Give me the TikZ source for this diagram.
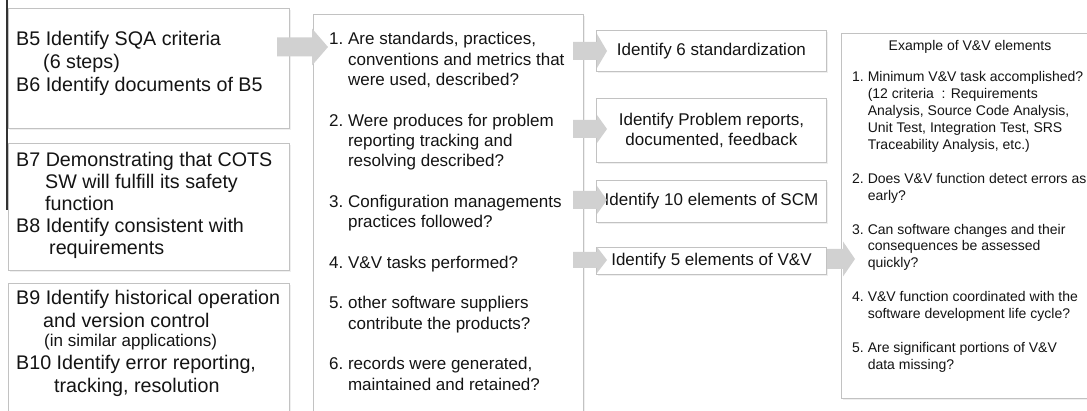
\documentclass[tikz,border=0pt]{standalone}
\usepackage{fontspec}
\setmainfont{Liberation Sans}
\usetikzlibrary{calc,shadows}
\newcommand\lfont{\fontsize{19.7}{23}\selectfont}
\newcommand\lfontb{\fontsize{19.7}{22}\selectfont}
\newcommand\mfont{\fontsize{17}{20.3}\selectfont}
\newcommand\cfont{\fontsize{17}{20}\selectfont}
\newcommand\rfont{\fontsize{14}{16.9}\selectfont}
\tikzset{
  box/.style={draw=black!24, line width=0.9pt, fill=white, anchor=north west, inner sep=0pt,
    drop shadow={shadow xshift=1.2pt, shadow yshift=-1.2pt, opacity=0.12}},
  cbox/.style={box, align=center, font=\cfont, text=black!92},
  txt/.style={inner sep=0pt, anchor=base west, text=black!92},
  arrowfill/.style={fill=black!18},
}
% block arrow from coordinate #1 to tip coordinate #2; #3 shaft half-height, #4 head half-height, #5 head length
\newcommand\blockarr[5]{%
  \fill[arrowfill] let \p1=(#1), \p2=(#2) in
    (\x1,\y1+#3) -- (\x2-#5,\y1+#3) -- (\x2-#5,\y1+#4) -- (\x2,\y1)
    -- (\x2-#5,\y1-#4) -- (\x2-#5,\y1-#3) -- (\x1,\y1-#3) -- cycle;}
\begin{document}
\begin{tikzpicture}[x=1pt,y=-1pt]
\useasboundingbox (0,0) rectangle (1087,411);
\fill[white] (0,0) rectangle (1087,411);
\clip (0,0) rectangle (1087,411);

% cropped edge line at the left
\coordinate (edgetop) at (7,0);
\coordinate (edgebot) at (7,210);
\draw[line width=1.3pt, black!80] (edgetop) -- (edgebot);

% left boxes
\node[box, minimum width=281pt, minimum height=120pt] (L1) at (8,8) {};
\node[box, minimum width=281pt, minimum height=127pt] (L2) at (8,143) {};
\node[box, minimum width=281pt, minimum height=150pt] (L3) at (8,283) {};

\node[txt, font=\lfont] (L1t) at (16,45.5) {\begin{tabular}[t]{@{}l@{}}
B5 Identify SQA criteria\\
\hspace*{27pt}(6 steps)\\
B6 Identify documents of B5
\end{tabular}};

\node[txt, font=\lfontb] (L2t) at (16,166.5) {\begin{tabular}[t]{@{}l@{}}
B7 Demonstrating that COTS\\
\hspace*{29pt}SW will fulfill its safety\\
\hspace*{29pt}function\\
B8 Identify consistent with\\
\hspace*{33pt}requirements
\end{tabular}};

\node[txt, font=\lfont] (L3t) at (16,305) {\begin{tabular}[t]{@{}l@{}}
B9 Identify historical operation\\
\hspace*{27pt}and version control\\[-4pt]
\hspace*{28pt}{\fontsize{17}{20}\selectfont (in similar applications)}\\
B10 Identify error reporting,\\
\hspace*{38pt}tracking, resolution
\end{tabular}};

% middle box
\node[box, minimum width=270pt, minimum height=420pt] (M) at (313,14) {};
\node[txt, font=\mfont] (Mt) at (329,45) {\begin{tabular}[t]{@{}l@{\hspace{4.7pt}}l@{}}
1. & Are standards, practices,\\
   & conventions and metrics that\\
   & were used, described?\\
   & \\
2. & Were produces for problem\\
   & reporting tracking and\\
   & resolving described?\\
   & \\
3. & Configuration managements\\
   & practices followed?\\
   & \\
4. & V\&V tasks performed?\\
   & \\
5. & other software suppliers\\
   & contribute the products?\\
   & \\
6. & records were generated,\\
   & maintained and retained?
\end{tabular}};

% third column boxes
\node[cbox, minimum width=230pt, minimum height=41pt] (A) at (596,30) {Identify 6 standardization};
\node[cbox, minimum width=230pt, minimum height=64pt] (B) at (596,98) {Identify Problem reports,\\documented, feedback};
\node[cbox, minimum width=230pt, minimum height=42pt] (C) at (596,180) {Identify 10 elements of SCM};
\node[cbox, minimum width=230pt, minimum height=27pt] (D) at (596,247) {Identify 5 elements of V\&V};

% right box
\node[box, minimum width=270pt, minimum height=365pt] (R) at (841,33) {};
\node[inner sep=0pt, anchor=base, font=\rfont, text=black!92] (Rh) at (970,51) {Example of V\&V elements};
\node[txt, font=\rfont] (Rt) at (852,82) {\begin{tabular}[t]{@{}l@{\hspace{3.9pt}}l@{}}
1. & Minimum V\&V task accomplished?\\
   & (12 criteria\ \ : Requirements\\
   & Analysis, Source Code Analysis,\\
   & Unit Test, Integration Test, SRS\\
   & Traceability Analysis, etc.)\\
   & \\
2. & Does V\&V function detect errors as\\
   & early?\\
   & \\
3. & Can software changes and their\\
   & consequences be assessed\\
   & quickly?\\
   & \\
4. & V\&V function coordinated with the\\
   & software development life cycle?\\
   & \\
5. & Are significant portions of V\&V\\
   & data missing?
\end{tabular}};

% block arrows
\coordinate (a1s) at (277,47);  \coordinate (a1e) at (328,47);
\coordinate (a2s) at (573,51);  \coordinate (a2e) at (607,51);
\coordinate (a3s) at (573,129); \coordinate (a3e) at (607,129);
\coordinate (a4s) at (573,200); \coordinate (a4e) at (607,200);
\coordinate (a5s) at (573,260); \coordinate (a5e) at (607,260);
\coordinate (a6s) at (827,259); \coordinate (a6e) at (855,259);
\blockarr{a1s}{a1e}{9.5pt}{18.5pt}{16pt}
\blockarr{a2s}{a2e}{9pt}{17pt}{10pt}
\blockarr{a3s}{a3e}{9pt}{14pt}{10pt}
\blockarr{a4s}{a4e}{9pt}{14pt}{10pt}
\blockarr{a5s}{a5e}{8pt}{13pt}{10pt}
\blockarr{a6s}{a6e}{10pt}{17.5pt}{12pt}
\end{tikzpicture}
\end{document}
